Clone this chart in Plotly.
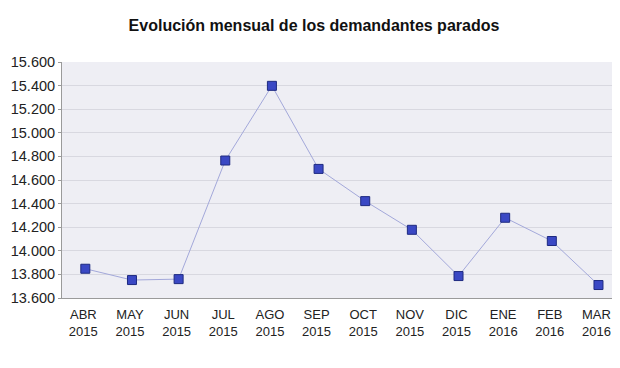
import plotly.graph_objects as go

months = ["ABR<br>2015", "MAY<br>2015", "JUN<br>2015", "JUL<br>2015", "AGO<br>2015", "SEP<br>2015",
          "OCT<br>2015", "NOV<br>2015", "DIC<br>2015", "ENE<br>2016", "FEB<br>2016", "MAR<br>2016"]
parados = [13848, 13752, 13760, 14765, 15398, 14694, 14421, 14178, 13786, 14280, 14083, 13710]
y_ticks = [13600, 13800, 14000, 14200, 14400, 14600, 14800, 15000, 15200, 15400, 15600]

fig = go.Figure()
fig.add_trace(go.Scatter(
    x=list(range(len(months))), y=parados, mode="lines+markers",
    line=dict(color="#A3A8DA", width=1),
    marker=dict(symbol="square", size=9, color="#3A48C4", line=dict(color="#1E2A80", width=1)),
    hoverinfo="y",
))

fig.update_layout(
    width=604, height=352,
    margin=dict(l=54, r=0, t=54, b=62, autoexpand=False),
    paper_bgcolor="white", plot_bgcolor="#EEEEF4",
    separators=",.",
    showlegend=False,
    title=dict(text="<b>Evolución mensual de los demandantes parados</b>", x=0.5066, xanchor="center",
               y=0.9517, yanchor="middle",
               font=dict(family="Liberation Sans, Arial", size=16, color="#111111")),
    font=dict(family="Liberation Sans, Arial", size=14, color="#222222"),
)
fig.update_xaxes(
    tickmode="array", tickvals=list(range(len(months))), ticktext=months,
    range=[-0.5, 11.29], showgrid=False, showline=True, linecolor="#9A9A9A", linewidth=1,
    ticks="outside", ticklen=4, tickcolor="rgba(0,0,0,0)",
    tickfont=dict(size=13, color="#222222"), ticklabelshift=-2,
    zeroline=False, automargin=False,
)
fig.update_yaxes(
    range=[13600, 15600], tickvals=y_ticks, tickformat=",.0f",
    showgrid=True, gridcolor="#D8D8E0", gridwidth=1,
    showline=True, linecolor="#9A9A9A", linewidth=1,
    ticks="outside", ticklen=3, tickcolor="#9A9A9A",
    tickfont=dict(size=14.5, color="#222222"), zeroline=False, automargin=False,
)

fig.write_html("out.html")
